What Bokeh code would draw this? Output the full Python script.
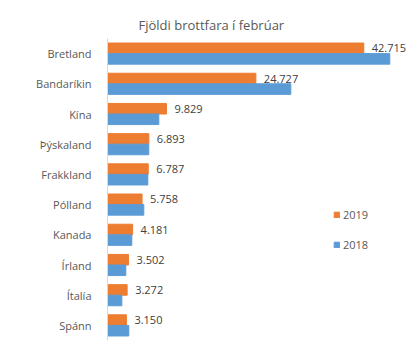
from bokeh.plotting import figure
from bokeh.models import FactorRange, Range1d, ColumnDataSource, Legend, LegendItem, Title
from bokeh.transform import dodge
from bokeh.core.properties import value
from bokeh.embed import file_html
from bokeh.resources import INLINE

title = "Fjöldi brottfara í febrúar"
categories = ["Bretland", "Bandaríkin", "Kína", "Þýskaland", "Frakkland",
              "Pólland", "Kanada", "Írland", "Ítalía", "Spánn"]
values_2019 = [42715, 24727, 9829, 6893, 6787, 5758, 4181, 3502, 3272, 3150]
values_2018 = [47050, 30550, 8550, 6880, 6720, 6050, 4050, 3050, 2390, 3550]
labels_2019 = ["42.715", "24.727", "9.829", "6.893", "6.787",
               "5.758", "4.181", "3.502", "3.272", "3.150"]
series_names = ["2019", "2018"]

FONT = "Open Sans"
TXT = "#595959"
ORANGE = "#ED7D31"
BLUE = "#5B9BD5"

src = ColumnDataSource(dict(cat=categories, v19=values_2019, v18=values_2018, lab=labels_2019))

p = figure(width=420, height=353, output_backend="svg", toolbar_location=None,
           y_range=FactorRange(*reversed(categories), range_padding=0),
           x_range=Range1d(0, 50000),
           min_border_left=107, min_border_right=13, min_border_top=38, min_border_bottom=13)
p.y_range.factor_padding = 0
p.outline_line_color = None
p.xaxis.visible = False
p.xgrid.visible = False
p.ygrid.visible = False

p.title = Title(text=title, align="left", offset=31, standoff=10,
                text_font=FONT, text_font_size="13px", text_font_style="normal",
                text_color=TXT)

r19 = p.hbar(y=dodge("cat", 0.175, range=p.y_range), right="v19", left=0, height=0.35,
             color=ORANGE, source=src)
r18 = p.hbar(y=dodge("cat", -0.175, range=p.y_range), right="v18", left=0, height=0.35,
             color=BLUE, source=src)

p.text(x="v19", y=dodge("cat", 0.175, range=p.y_range), text="lab", source=src,
       x_offset=8, text_baseline="middle", text_align="left",
       text_font=value(FONT), text_font_size="11px", text_color="#404040")

yax = p.yaxis[0]
yax.axis_line_color = "#d9d9d9"
yax.major_tick_line_color = None
yax.minor_tick_line_color = None
yax.major_label_text_font = FONT
yax.major_label_text_font_size = "11px"
yax.major_label_text_color = TXT
yax.major_label_standoff = 10

legend = Legend(items=[LegendItem(label=series_names[0], renderers=[r19]),
                       LegendItem(label=series_names[1], renderers=[r18])],
                location=(226, 86), padding=0, margin=0, spacing=10,
                glyph_width=7, glyph_height=7, label_standoff=3, label_height=20,
                label_text_font=FONT, label_text_font_size="11px", label_text_color=TXT,
                border_line_color=None, background_fill_alpha=0)
p.add_layout(legend, "center")

open("out.html", "w").write(file_html(p, INLINE))
